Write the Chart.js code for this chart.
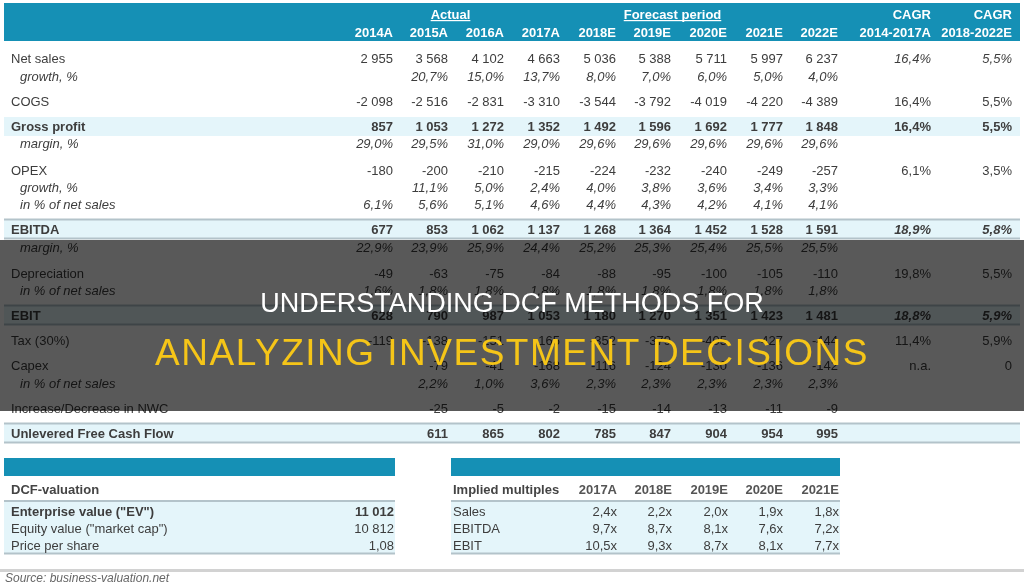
<!DOCTYPE html>
<html>
<head>
<meta charset="utf-8">
<script src="https://cdn.jsdelivr.net/npm/chart.js@4.4.1/dist/chart.umd.min.js"></script>
<style>
html,body{margin:0;padding:0;background:#fff;}
#wrap{position:relative;width:1024px;height:588px;overflow:hidden;}
canvas{display:block;}
#shade{position:absolute;left:0;top:240px;width:1024px;height:171px;background:rgba(0,0,0,0.65);}
.t{position:absolute;left:0;width:1024px;text-align:center;font-family:"Liberation Sans",Arial,sans-serif;white-space:nowrap;}
#t1{top:290px;font-size:27px;line-height:27px;color:#ffffff;}
#t2{top:334px;font-size:37px;line-height:37px;color:#f5c518;letter-spacing:1.5px;}
</style>
</head>
<body>
<div id="wrap">
<canvas id="c" width="1024" height="588"></canvas>
<div id="shade"></div>
<div class="t" id="t1">UNDERSTANDING DCF METHODS FOR</div>
<div class="t" id="t2">ANALYZING INVESTMENT DECISIONS</div>
</div>
<script>
// ---------- DATA ----------
const columns = ['2014A','2015A','2016A','2017A','2018E','2019E','2020E','2021E','2022E'];
const cagrHeaders = [['CAGR','2014-2017A'],['CAGR','2018-2022E']];
const netSales      = [2955,3568,4102,4663,5036,5388,5711,5997,6237];
const netSalesGrowth= [null,20.7,15.0,13.7,8.0,7.0,6.0,5.0,4.0];
const cogs          = [-2098,-2516,-2831,-3310,-3544,-3792,-4019,-4220,-4389];
const grossProfit   = [857,1053,1272,1352,1492,1596,1692,1777,1848];
const grossMargin   = [29.0,29.5,31.0,29.0,29.6,29.6,29.6,29.6,29.6];
const opex          = [-180,-200,-210,-215,-224,-232,-240,-249,-257];
const opexGrowth    = [null,11.1,5.0,2.4,4.0,3.8,3.6,3.4,3.3];
const opexPct       = [6.1,5.6,5.1,4.6,4.4,4.3,4.2,4.1,4.1];
const ebitda        = [677,853,1062,1137,1268,1364,1452,1528,1591];
const ebitdaMargin  = [22.9,23.9,25.9,24.4,25.2,25.3,25.4,25.5,25.5];
const depreciation  = [-49,-63,-75,-84,-88,-95,-100,-105,-110];
const depPct        = [1.6,1.8,1.8,1.8,1.8,1.8,1.8,1.8,1.8];
const ebit          = [628,790,987,1053,1180,1270,1351,1423,1481];
const tax           = [-119,-138,-151,-165,-352,-379,-405,-427,-444];
const capex         = [null,-79,-41,-168,-116,-124,-130,-136,-142];
const capexPct      = [null,2.2,1.0,3.6,2.3,2.3,2.3,2.3,2.3];
const nwc           = [null,-25,-5,-2,-15,-14,-13,-11,-9];
const ufcf          = [null,611,865,802,785,847,904,954,995];
const cagrActual    = {netSales:16.4,cogs:16.4,grossProfit:16.4,opex:6.1,ebitda:18.9,dep:19.8,ebit:18.8,tax:11.4,capex:'n.a.'};
const cagrForecast  = {netSales:5.5,cogs:5.5,grossProfit:5.5,opex:3.5,ebitda:5.8,dep:5.5,ebit:5.9,tax:5.9,capex:0};

const dcfLabels = ['Enterprise value ("EV")','Equity value ("market cap")','Price per share'];
const dcfValues = [11012,10812,1.08];
const multYears = ['2017A','2018E','2019E','2020E','2021E'];
const multLabels = ['Sales','EBITDA','EBIT'];
const multSales  = [2.4,2.2,2.0,1.9,1.8];
const multEbitda = [9.7,8.7,8.1,7.6,7.2];
const multEbit   = [10.5,9.3,8.7,8.1,7.7];

// ---------- FORMAT ----------
function fInt(v){const s=Math.abs(v).toString().replace(/\B(?=(\d{3})+(?!\d))/g,' ');return (v<0?'-':'')+s;}
function fPct(v){return v.toFixed(1).replace('.',',')+'%';}
function fX(v){return v.toFixed(1).replace('.',',')+'x';}
function fDec(v){return v.toFixed(2).replace('.',',');}

// ---------- LAYOUT ----------
const FONT = '"Liberation Sans", Arial, sans-serif';
const TXT = '#3d3d3d';
const TEAL = '#1590b5';
const BAND = '#e4f5fa';
const LINE = '#b3c3ca';
const colX = [393,448,504,560,616,671,727,783,838];
const cagrX = [931,1012];

const rows = [
 {label:'Net sales', v:netSales, f:fInt, y:58, k:'netSales', cs:'italic'},
 {label:'growth, %', v:netSalesGrowth, f:fPct, y:76, sub:true},
 {label:'COGS', v:cogs, f:fInt, y:101, k:'cogs', cs:''},
 {label:'Gross profit', v:grossProfit, f:fInt, y:126, k:'grossProfit', bold:true, cs:'bold', band:[117,136]},
 {label:'margin, %', v:grossMargin, f:fPct, y:143, sub:true},
 {label:'OPEX', v:opex, f:fInt, y:170, k:'opex', cs:''},
 {label:'growth, %', v:opexGrowth, f:fPct, y:187, sub:true},
 {label:'in % of net sales', v:opexPct, f:fPct, y:204, sub:true},
 {label:'EBITDA', v:ebitda, f:fInt, y:229, k:'ebitda', bold:true, cs:'italic bold', band:[220,238], lines:true},
 {label:'margin, %', v:ebitdaMargin, f:fPct, y:247, sub:true},
 {label:'Depreciation', v:depreciation, f:fInt, y:273, k:'dep', cs:''},
 {label:'in % of net sales', v:depPct, f:fPct, y:290, sub:true},
 {label:'EBIT', v:ebit, f:fInt, y:315, k:'ebit', bold:true, cs:'italic bold', band:[306,324], lines:true},
 {label:'Tax (30%)', v:tax, f:fInt, y:340, k:'tax', cs:''},
 {label:'Capex', v:capex, f:fInt, y:365, k:'capex', cs:''},
 {label:'in % of net sales', v:capexPct, f:fPct, y:383, sub:true},
 {label:'Increase/Decrease in NWC', v:nwc, f:fInt, y:408},
 {label:'Unlevered Free Cash Flow', v:ufcf, f:fInt, y:433, bold:true, band:[424,442], lines:true}
];

function cagrText(v){ if(typeof v==='string') return v; if(v===0) return '0'; return fPct(v); }

// build datasets: one per row, one point per cell
const datasets = rows.map(r=>{
  const pts=[], texts=[], fonts=[];
  const baseFont = (r.sub?'italic ':'')+(r.bold?'bold ':'')+'13px '+FONT;
  r.v.forEach((v,i)=>{ if(v===null) return; pts.push({x:colX[i],y:r.y}); texts.push(r.f(v)); fonts.push(baseFont); });
  if(r.k){
    [cagrActual[r.k],cagrForecast[r.k]].forEach((v,j)=>{
      pts.push({x:cagrX[j],y:r.y}); texts.push(cagrText(v)); fonts.push((r.cs?r.cs+' ':'')+'13px '+FONT);
    });
  }
  return {label:r.label, data:pts, texts, fonts, row:r, pointRadius:0, showLine:false};
});
// bottom tables
const dcfRowsY=[511,528,545];
datasets.push({label:'dcf', data:dcfValues.map((v,i)=>({x:394,y:dcfRowsY[i]})),
  texts:dcfValues.map(v=>Number.isInteger(v)?fInt(v):fDec(v)),
  fonts:dcfValues.map((v,i)=>(i===0?'bold ':'')+'13px '+FONT), pointRadius:0});
const multX=[617,672,728,783,839];
[multSales,multEbitda,multEbit].forEach((arr,ri)=>{
  datasets.push({label:multLabels[ri], data:arr.map((v,i)=>({x:multX[i],y:dcfRowsY[ri]})),
   texts:arr.map(fX), fonts:arr.map(()=> '13px '+FONT), pointRadius:0});
});

const tablePlugin = {
  id:'tablePlugin',
  beforeDatasetsDraw(chart){
    const c=chart.ctx, X=chart.scales.x, Y=chart.scales.y;
    const px=v=>X.getPixelForValue(v), py=v=>Y.getPixelForValue(v);
    c.save();
    // header band
    c.fillStyle=TEAL; c.fillRect(px(4),py(3),px(1020)-px(4),py(41)-py(3));
    // row bands and lines
    rows.forEach(r=>{
      if(!r.band) return;
      c.fillStyle=BAND; c.fillRect(px(4),py(r.band[0]),px(1020)-px(4),py(r.band[1])-py(r.band[0]));
      if(r.lines){ c.fillStyle=LINE;
        c.fillRect(px(4),py(r.band[0]-1.5),px(1020)-px(4),2);
        c.fillRect(px(4),py(r.band[1]-0.5),px(1020)-px(4),2); }
    });
    // bottom tables
    [[4,395],[451,840]].forEach(([a,b])=>{
      c.fillStyle=TEAL; c.fillRect(px(a),py(458),px(b)-px(a),py(476)-py(458));
      c.fillStyle=BAND; c.fillRect(px(a),py(501),px(b)-px(a),py(553)-py(501));
      c.fillStyle=LINE; c.fillRect(px(a),py(500),px(b)-px(a),2); c.fillRect(px(a),py(552.5),px(b)-px(a),2);
    });
    c.fillStyle='#d2d2d2'; c.fillRect(px(0),py(569),px(1024)-px(0),3);
    c.restore();
  },
  afterDatasetsDraw(chart){
    const c=chart.ctx, X=chart.scales.x, Y=chart.scales.y;
    const px=v=>X.getPixelForValue(v), py=v=>Y.getPixelForValue(v);
    c.save(); c.textBaseline='alphabetic';
    // cell values
    chart.data.datasets.forEach((ds,di)=>{
      const meta=chart.getDatasetMeta(di);
      meta.data.forEach((el,i)=>{
        c.font=ds.fonts[i]; c.fillStyle=TXT; c.textAlign='right';
        c.fillText(ds.texts[i], el.x, el.y+4.5);
      });
    });
    // row labels
    c.textAlign='left';
    rows.forEach(r=>{
      c.font=(r.sub?'italic ':'')+(r.bold?'bold ':'')+'13px '+FONT; c.fillStyle=TXT;
      c.fillText(r.label, px(r.sub?20:11), py(r.y)+4.5);
    });
    // header
    c.fillStyle='#ffffff'; c.font='bold 13px '+FONT; c.textAlign='right';
    columns.forEach((h,i)=>c.fillText(h,px(colX[i]),py(37)));
    cagrHeaders.forEach((h,j)=>{c.fillText(h[0],px(cagrX[j]),py(18.5)); c.fillText(h[1],px(cagrX[j]),py(37));});
    c.textAlign='center';
    [['Actual',(colX[0]+colX[2])/2+2],['Forecast period',(colX[4]+colX[6])/2+1]].forEach(([t,x])=>{
      c.fillText(t,px(x),py(18.5));
      const w=c.measureText(t).width; c.fillRect(px(x)-w/2,py(20),w,1.2);
    });
    // bottom tables text
    c.textAlign='left'; c.fillStyle='#444'; c.font='bold 13px '+FONT;
    c.fillText('DCF-valuation',px(11),py(493.5));
    c.fillText('Implied multiples',px(453),py(493.5));
    c.textAlign='right'; c.fillStyle='#555';
    multYears.forEach((h,i)=>c.fillText(h,px(multX[i]),py(493.5)));
    c.textAlign='left'; c.fillStyle=TXT;
    dcfLabels.forEach((l,i)=>{c.font=(i===0?'bold ':'')+'13px '+FONT; c.fillText(l,px(11),py(dcfRowsY[i])+4.5);});
    c.font='13px '+FONT;
    multLabels.forEach((l,i)=>c.fillText(l,px(453),py(dcfRowsY[i])+4.5));
    c.font='italic 12px '+FONT; c.fillStyle='#666';
    c.fillText('Source: business-valuation.net',px(5),py(582));
    c.restore();
  }
};

new Chart(document.getElementById('c'),{
  type:'scatter',
  data:{datasets},
  options:{
    responsive:false, animation:false, events:[],
    layout:{padding:0},
    plugins:{legend:{display:false},tooltip:{enabled:false}},
    scales:{
      x:{type:'linear',min:0,max:1024,display:false},
      y:{type:'linear',min:0,max:588,reverse:true,display:false}
    }
  },
  plugins:[tablePlugin]
});
</script>
</body>
</html>
